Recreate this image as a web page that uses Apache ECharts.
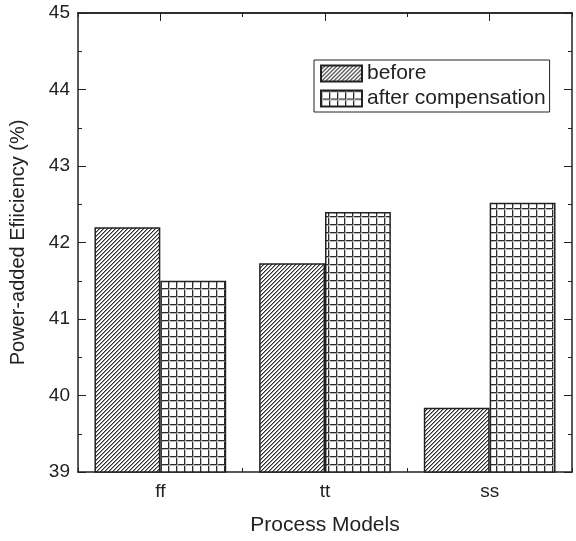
<!DOCTYPE html>
<html>
<head>
<meta charset="utf-8">
<script src="https://cdn.jsdelivr.net/npm/echarts@6/dist/echarts.min.js"></script>
<style>
  html, body { margin: 0; padding: 0; background: #fff; }
  #chart { width: 576px; height: 541px; }
</style>
</head>
<body>
<div id="chart"></div>
<script>
const categories = ['ff', 'tt', 'ss']
const beforeValues = [42.2, 41.73, 39.84]
const afterValues = [41.5, 42.4, 42.52]
const seriesNames = ['before', 'after compensation']

// diagonal "/" hatch tile
function hatchPattern() {
  const c = document.createElement('canvas')
  c.width = 4
  c.height = 4
  const ctx = c.getContext('2d')
  ctx.fillStyle = '#fff'
  ctx.fillRect(0, 0, 4, 4)
  ctx.fillStyle = '#2a2a2a'
  for (let i = 0; i < 4; i++) {
    ctx.fillRect(i, 3 - i, 1, 1)
  }
  ctx.fillStyle = '#9a9a9a'
  for (let i = 0; i < 4; i++) {
    ctx.fillRect(i, (4 - i) % 4, 1, 1)
  }
  return c
}

// square grid tile
function gridPattern() {
  const c = document.createElement('canvas')
  c.width = 8
  c.height = 8
  const ctx = c.getContext('2d')
  ctx.fillStyle = '#fff'
  ctx.fillRect(0, 0, 8, 8)
  ctx.fillStyle = '#2a2a2a'
  ctx.fillRect(0, 0, 8, 1)
  ctx.fillRect(0, 0, 1, 8)
  ctx.fillStyle = '#bbb'
  ctx.fillRect(0, 1, 8, 1)
  ctx.fillRect(1, 0, 1, 8)
  return c
}

const font = 'Liberation Sans, Arial, sans-serif'
const dark = '#222'

const chart = echarts.init(document.getElementById('chart'))

const xBase = {
  type: 'category',
  data: categories,
  axisLine: { lineStyle: { color: dark, width: 1.5 } },
  splitLine: { show: false }
}

chart.setOption({
  animation: false,
  backgroundColor: '#fff',
  grid: { left: 77, right: 4, top: 13, bottom: 69 },
  legend: {
    orient: 'vertical',
    left: 314,
    top: 60,
    padding: [3, 4, 3, 6],
    itemGap: 4,
    itemWidth: 41,
    itemHeight: 16,
    icon: 'rect',
    borderColor: dark,
    borderWidth: 1,
    textStyle: { fontFamily: font, fontSize: 21, color: dark },
    data: seriesNames
  },
  xAxis: [
    Object.assign({}, xBase, {
      position: 'bottom',
      name: 'Process Models',
      nameLocation: 'middle',
      nameGap: 43,
      nameTextStyle: { fontFamily: font, fontSize: 21, color: dark },
      axisTick: { show: true, inside: true, length: 4, lineStyle: { color: dark } },
      axisLabel: { fontFamily: font, fontSize: 19, color: dark, margin: 10 }
    }),
    Object.assign({}, xBase, {
      position: 'top',
      axisTick: { show: true, inside: true, alignWithLabel: true, length: 8, lineStyle: { color: dark } },
      axisLabel: { show: false }
    }),
    Object.assign({}, xBase, {
      position: 'top',
      axisTick: { show: true, inside: true, length: 4, lineStyle: { color: dark } },
      axisLabel: { show: false }
    })
  ],
  yAxis: [
    {
      type: 'value',
      position: 'left',
      min: 39,
      max: 45,
      interval: 1,
      name: 'Power-added Efiiciency (%)',
      nameLocation: 'middle',
      nameGap: 50,
      nameTextStyle: { fontFamily: font, fontSize: 20, color: dark },
      axisLine: { show: true, lineStyle: { color: dark, width: 1.5 } },
      axisTick: { show: true, inside: true, length: 8, lineStyle: { color: dark } },
      minorTick: { show: true, splitNumber: 2, length: 4, lineStyle: { color: dark } },
      axisLabel: { fontFamily: font, fontSize: 19, color: dark, margin: 8 },
      splitLine: { show: false }
    },
    {
      type: 'value',
      position: 'right',
      min: 39,
      max: 45,
      interval: 1,
      axisLine: { show: true, lineStyle: { color: dark, width: 1.5 } },
      axisTick: { show: true, inside: true, length: 8, lineStyle: { color: dark } },
      minorTick: { show: true, splitNumber: 2, length: 4, lineStyle: { color: dark } },
      axisLabel: { show: false },
      splitLine: { show: false }
    }
  ],
  series: [
    {
      name: seriesNames[0],
      type: 'bar',
      data: beforeValues,
      barWidth: '40%',
      barGap: '0%',
      itemStyle: {
        color: { image: hatchPattern(), repeat: 'repeat' },
        borderColor: dark,
        borderWidth: 1.5
      }
    },
    {
      name: seriesNames[1],
      type: 'bar',
      data: afterValues,
      barWidth: '40%',
      barGap: '0%',
      itemStyle: {
        color: { image: gridPattern(), repeat: 'repeat' },
        borderColor: dark,
        borderWidth: 1.5
      }
    }
  ]
})
</script>
</body>
</html>
